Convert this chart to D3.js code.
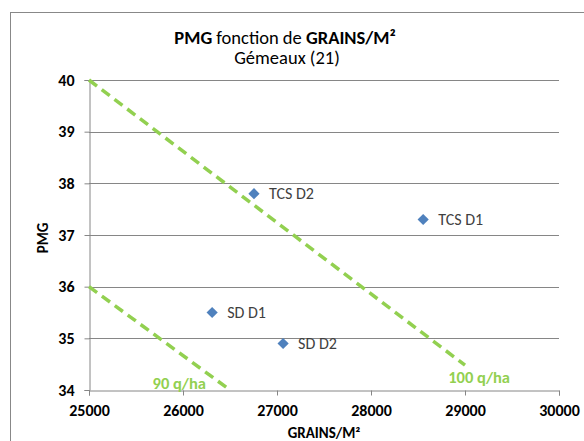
<!DOCTYPE html>
<meta charset="utf-8">
<style>
 body { margin: 0; background: #fff; }
 text { font-family: Carlito, Calibri, Lato, sans-serif; }
</style>
<script src="https://d3js.org/d3.v7.min.js"></script>
<svg width="584" height="441"></svg>
<script>
const svg = d3.select('svg');

// data
const pointLabels = ['TCS D2', 'TCS D1', 'SD D1', 'SD D2'];
const grains = [26755, 28555, 26310, 27065];
const pmg = [37.8, 37.3, 35.5, 34.9];

const yieldLabels = ['100 q/ha', '90 q/ha'];
const lineX = [[25000, 29000], [25000, 26500]];
const lineY = [[40, 34.48], [36, 34]];

const xTicks = [25000, 26000, 27000, 28000, 29000, 30000];
const yTicks = [34, 35, 36, 37, 38, 39, 40];

const plotL = 89, plotR = 559, plotT = 80, plotB = 390;
const x = d3.scaleLinear().domain([25000, 30000]).range([plotL, plotR]);
const y = d3.scaleLinear().domain([34, 40]).range([plotB, plotT]);

// chart frame
svg.append('rect')
	.attr('x', 10.5).attr('y', 12.5)
	.attr('width', 600).attr('height', 460)
	.attr('fill', 'none').attr('stroke', '#888').attr('stroke-width', 1);

// title
const title = svg.append('text')
	.attr('x', 285).attr('y', 44)
	.attr('text-anchor', 'middle')
	.attr('font-size', 18.5).attr('fill', '#000');
title.append('tspan').attr('font-weight', 'bold').text('PMG');
title.append('tspan').text(' fonction de ');
title.append('tspan').attr('font-weight', 'bold').text('GRAINS/M²');

svg.append('text')
	.attr('x', 287).attr('y', 64)
	.attr('text-anchor', 'middle')
	.attr('font-size', 18.5).attr('fill', '#000')
	.text('Gémeaux (21)');

// grid
svg.append('g')
	.selectAll('line')
	.data(yTicks.slice(1))
	.join('line')
	.attr('x1', plotL).attr('x2', plotR)
	.attr('y1', d => Math.round(y(d)) + 0.5).attr('y2', d => Math.round(y(d)) + 0.5)
	.attr('stroke', '#868686');

// axes
const yAxis = svg.append('g')
	.attr('transform', `translate(${plotL + 0.5},0)`)
	.call(d3.axisLeft(y).tickValues(yTicks).tickSize(5).tickPadding(10).tickFormat(d3.format('d')));
const xAxis = svg.append('g')
	.attr('transform', `translate(0,${plotB + 0.5})`)
	.call(d3.axisBottom(x).tickValues(xTicks).tickSize(5).tickPadding(9).tickFormat(d3.format('d')));

[xAxis, yAxis].forEach(a => {
	a.select('.domain').attr('stroke', '#868686');
	a.selectAll('.tick line').attr('stroke', '#868686');
	a.selectAll('.tick text')
		.attr('font-family', 'Carlito, Calibri, Lato, sans-serif')
		.attr('font-size', 16).attr('font-weight', 'bold').attr('fill', '#000');
});

svg.append('text')
	.attr('transform', `translate(48,238) rotate(-90)`)
	.attr('text-anchor', 'middle')
	.attr('font-size', 15).attr('font-weight', 'bold')
	.text('PMG');

svg.append('text')
	.attr('x', 324).attr('y', 438)
	.attr('text-anchor', 'middle')
	.attr('font-size', 15).attr('font-weight', 'bold')
	.text('GRAINS/M²');

// iso-yield lines
const line = d3.line().x(d => x(d[0])).y(d => y(d[1]));
svg.append('g')
	.selectAll('path')
	.data(yieldLabels.map((l, i) => lineX[i].map((v, j) => [v, lineY[i][j]])))
	.join('path')
	.attr('d', line)
	.attr('fill', 'none')
	.attr('stroke', '#92D050')
	.attr('stroke-width', 3.5)
	.attr('stroke-dasharray', '10,6');

const yieldLabelPos = [[29150, 34.13], [25960, 34.02]];
svg.append('g')
	.selectAll('text')
	.data(yieldLabels)
	.join('text')
	.attr('x', (d, i) => x(yieldLabelPos[i][0]))
	.attr('y', (d, i) => y(yieldLabelPos[i][1]))
	.attr('text-anchor', 'middle')
	.attr('font-size', 16.5).attr('font-weight', 'bold')
	.attr('fill', '#92D050')
	.text(d => d);

// points
const pts = svg.append('g')
	.selectAll('g')
	.data(pointLabels.map((l, i) => ({ l, gx: grains[i], p: pmg[i] })))
	.join('g')
	.attr('transform', d => `translate(${x(d.gx)},${y(d.p)})`);

pts.append('path')
	.attr('d', d3.symbol(d3.symbolDiamond2, 80))
	.attr('fill', '#4F81BD');

pts.append('text')
	.attr('x', 15).attr('y', 5.5)
	.attr('font-size', 16).attr('fill', '#404040')
	.text(d => d.l);
</script>
